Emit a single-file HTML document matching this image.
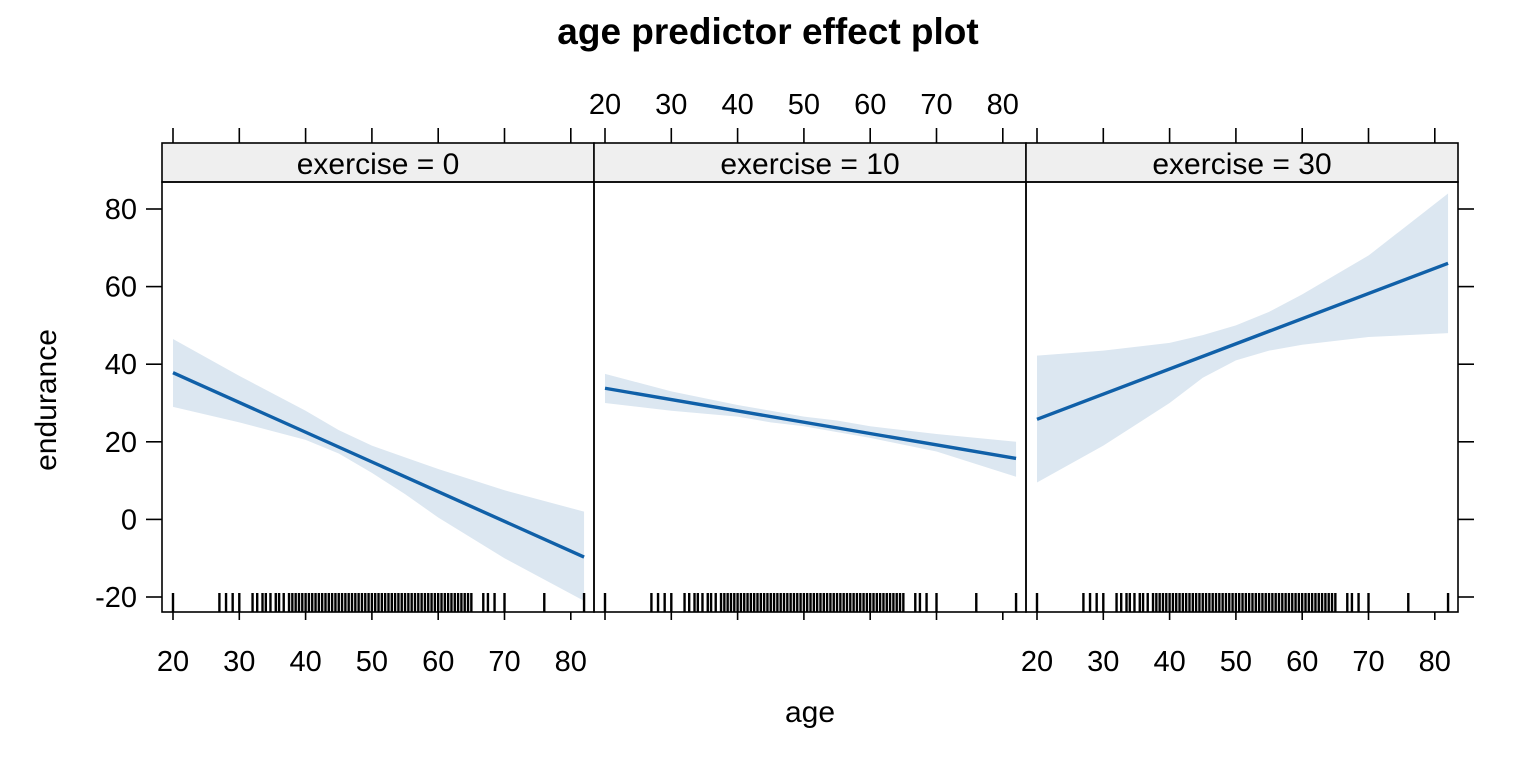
<!DOCTYPE html>
<html><head><meta charset="utf-8"><style>
body{margin:0;background:#fff}
svg{display:block;font-family:"Liberation Sans",Arial,sans-serif}
</style></head><body>
<svg id="chart" width="1536" height="768" viewBox="0 0 1536 768">
<text x="768" y="44" text-anchor="middle" font-size="37" font-weight="bold">age predictor effect plot</text>
<text x="810" y="722" text-anchor="middle" font-size="30">age</text>
<text transform="translate(56,400) rotate(-90)" text-anchor="middle" font-size="30">endurance</text>
<g id="g"></g>
</svg>
<script>
const panelLabels=["exercise = 0","exercise = 10","exercise = 30"];
const bandAges=[20,30,40,45,50,55,60,70,82];
const fitStart=[37.8,33.8,25.8];
const fitEnd=[-9.7,15.7,66.0];
const upper0=[46.5,37,28,23,19,16,13,7.5,2];
const lower0=[29,25,20.5,17,12,6.5,0.5,-10,-21];
const upper1=[37.5,33,29.5,28,26.5,25.5,24,22,20];
const lower1=[30,28,26.5,25,24,22.5,21,17.5,11];
const upper2=[42.2,43.5,45.5,47.5,50,53.5,58,68,84];
const lower2=[9.5,19,30,36.5,41,43.5,45,47,48];
const xTicks=[20,30,40,50,60,70,80];
const yTicks=[-20,0,20,40,60,80];
const rugAges=[20,27,28,29,30,32,32.7,33.5,34,34.7,35.5,36,36.7,37.5,38,38.5,39,39.5,40,40.5,41,41.5,42,42.5,43,43.5,44,44.5,45,45.5,46,46.5,47,47.5,48,48.5,49,49.5,50,50.5,51,51.5,52,52.5,53,53.5,54,54.5,55,55.5,56,56.5,57,57.5,58,58.5,59,59.5,60,60.5,61,61.5,62,62.5,63,63.5,64,64.5,65,66.8,67.5,68.5,70,76,82];
const uppers=[upper0,upper1,upper2], lowers=[lower0,lower1,lower2];
const NS="http://www.w3.org/2000/svg", g=document.getElementById('g');
const PL=[162,594,1026], PW=432, TOP=182, BOT=612, STRIP=143;
function sx(p,a){return PL[p]+11+(a-20)*6.63;}
function sy(v){return 519.4-v*3.88;}
function mk(t,at,parent){const e=document.createElementNS(NS,t);for(const k in at)e.setAttribute(k,at[k]);(parent||g).appendChild(e);return e;}
for(let p=0;p<3;p++){
  const pg=mk('g',{});
  
  
  let pts=bandAges.map((a,i)=>sx(p,a)+','+sy(uppers[p][i]));
  for(let i=bandAges.length-1;i>=0;i--)pts.push(sx(p,bandAges[i])+','+sy(lowers[p][i]));
  const band=mk('polygon',{points:pts.join(' '),fill:'#dce7f1'},pg);
  
  
  const ln=mk('line',{x1:sx(p,20),y1:sy(fitStart[p]),x2:sx(p,82),y2:sy(fitEnd[p]),stroke:'#1060a8','stroke-width':3.4},pg);
  
  
  rugAges.forEach(a=>{const r=mk('line',{x1:sx(p,a),x2:sx(p,a),y1:593,y2:612,stroke:'#000','stroke-width':2.4},pg);
    
    });
  const st=mk('rect',{x:PL[p],y:STRIP,width:PW,height:TOP-STRIP,fill:'#efefef',stroke:'#000','stroke-width':1.6},pg);
  
  
  const stt=mk('text',{x:PL[p]+PW/2,y:174,'text-anchor':'middle','font-size':30},pg);
  stt.textContent=panelLabels[p];
  
  
  const fr=mk('rect',{x:PL[p],y:TOP,width:PW,height:BOT-TOP,fill:'none',stroke:'#000','stroke-width':1.6},pg);
  
  
  xTicks.forEach(t=>{
    const x=sx(p,t);
    mk('line',{x1:x,x2:x,y1:128,y2:STRIP,stroke:'#000','stroke-width':1.6},pg);
    mk('line',{x1:x,x2:x,y1:BOT,y2:620,stroke:'#000','stroke-width':1.6},pg);
    if(p!==1){const tx=mk('text',{x:x,y:671,'text-anchor':'middle','font-size':29},pg);tx.textContent=t;
      
      }
    else{const tx=mk('text',{x:x,y:114,'text-anchor':'middle','font-size':29},pg);tx.textContent=t;
      
      }
  });
}
yTicks.forEach(v=>{
  const y=sy(v);
  mk('line',{x1:146,x2:162,y1:y,y2:y,stroke:'#000','stroke-width':1.6});
  mk('line',{x1:1458,x2:1474,y1:y,y2:y,stroke:'#000','stroke-width':1.6});
  const t=mk('text',{x:137,y:y+10,'text-anchor':'end','font-size':29});
  t.textContent=v;
  
  
});
</script>
</body></html>
